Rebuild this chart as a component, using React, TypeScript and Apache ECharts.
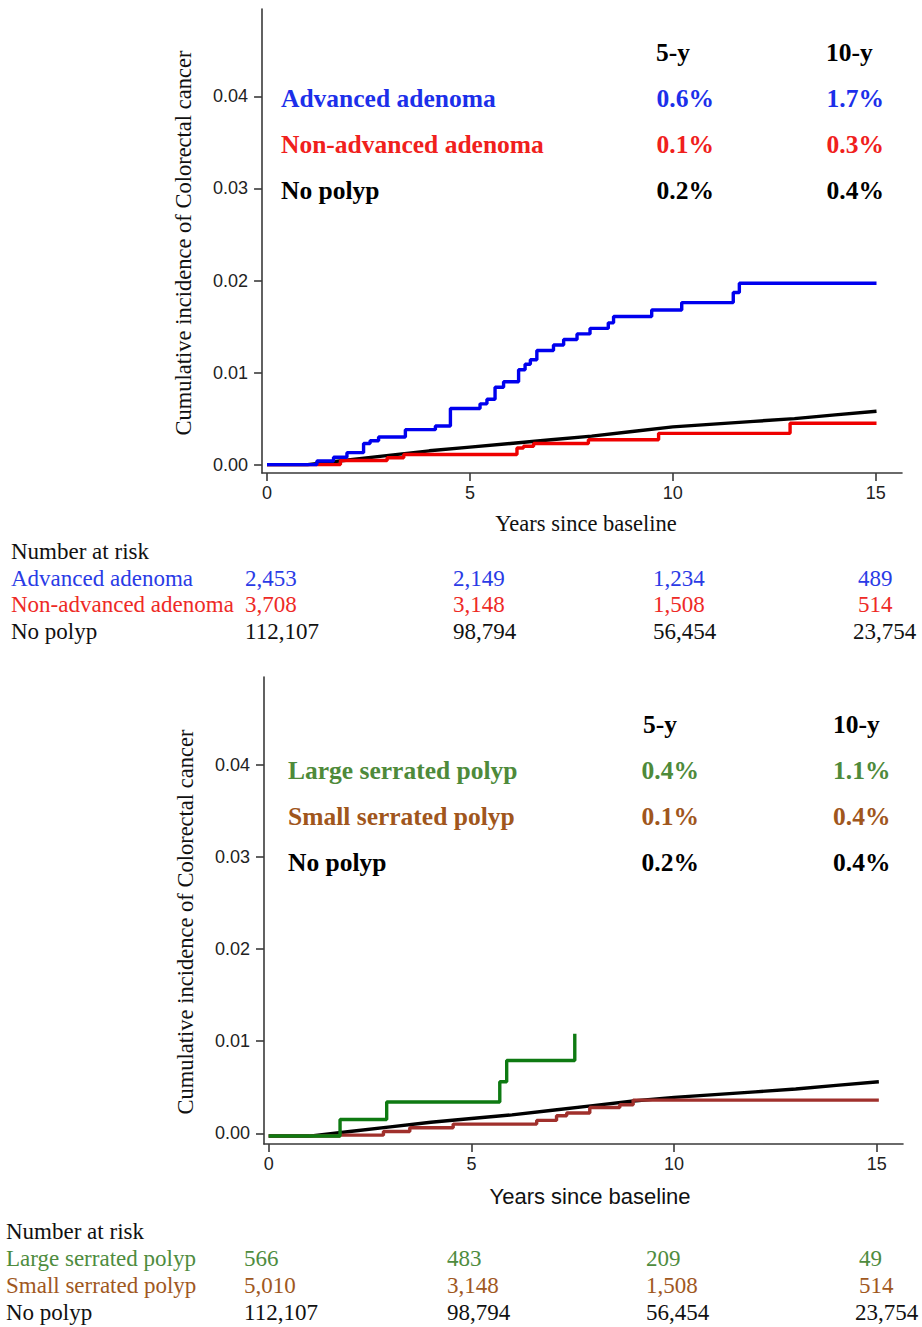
import React, { useEffect, useRef } from 'react';
import * as echarts from 'echarts';

// ---------- data ----------
const xTicks = [0, 5, 10, 15];
const yTicks = [0, 0.01, 0.02, 0.03, 0.04];

// Panel A: cumulative incidence (years, incidence)
const advancedAdenoma: [number, number][] = [
  [0, 0], [1.23, 0.0004], [1.64, 0.0008], [1.97, 0.0013], [2.38, 0.0023], [2.54, 0.0026],
  [2.75, 0.003], [3.41, 0.0038], [4.15, 0.0042], [4.52, 0.0061], [5.25, 0.0066], [5.42, 0.0071],
  [5.62, 0.0084], [5.83, 0.009], [6.2, 0.0103], [6.36, 0.0109], [6.49, 0.0114], [6.65, 0.0124],
  [7.06, 0.013], [7.31, 0.0136], [7.64, 0.0142], [7.96, 0.0148], [8.41, 0.0154], [8.54, 0.0161],
  [9.48, 0.0168], [10.22, 0.0176], [11.49, 0.0187], [11.64, 0.0197], [15.02, 0.0197],
];
const nonAdvancedAdenoma: [number, number][] = [
  [0, 0], [1.81, 0.00045], [2.96, 0.00075], [3.37, 0.0011], [6.16, 0.0018], [6.32, 0.002],
  [6.57, 0.0023], [7.92, 0.0027], [9.65, 0.0034], [12.89, 0.0045], [15.02, 0.0045],
];
const noPolypA: [number, number][] = [
  [0, 0], [1.0, 0], [2, 0.0005], [3, 0.001], [4, 0.0015], [5, 0.0019], [6, 0.0023], [7, 0.0027],
  [8, 0.0031], [9, 0.0036], [10, 0.0041], [11, 0.0044], [12, 0.0047], [13, 0.005], [14, 0.0054], [15.02, 0.0058],
];

// Panel B
const largeSerrated: [number, number][] = [
  [0, -0.0003], [1.76, 0.0015], [2.91, 0.0034], [5.7, 0.0056], [5.87, 0.0079], [7.55, 0.0108],
];
const smallSerrated: [number, number][] = [
  [0, -0.0003], [1.76, -0.0002], [2.83, 0.0002], [3.48, 0.0006], [4.55, 0.001], [6.61, 0.0014],
  [7.1, 0.0019], [7.35, 0.0022], [7.92, 0.0028], [8.66, 0.0031], [8.99, 0.0036], [15.05, 0.0036],
];
const noPolypB: [number, number][] = [
  [0, -0.0003], [1.0, -0.0003], [2, 0.0002], [3, 0.0007], [4, 0.0012], [5, 0.0016], [6, 0.002],
  [7, 0.0025], [8, 0.003], [9, 0.0035], [10, 0.0039], [11, 0.0042], [12, 0.0045], [13, 0.0048],
  [14, 0.0052], [15.05, 0.0056],
];

const groupsA = ['Advanced adenoma', 'Non-advanced adenoma', 'No polyp'];
const fiveYearA = ['0.6%', '0.1%', '0.2%'];
const tenYearA = ['1.7%', '0.3%', '0.4%'];
const groupsB = ['Large serrated polyp', 'Small serrated polyp', 'No polyp'];
const fiveYearB = ['0.4%', '0.1%', '0.2%'];
const tenYearB = ['1.1%', '0.4%', '0.4%'];
const headers = ['5-y', '10-y'];

const riskA = [
  [2453, 2149, 1234, 489],
  [3708, 3148, 1508, 514],
  [112107, 98794, 56454, 23754],
];
const riskB = [
  [566, 483, 209, 49],
  [5010, 3148, 1508, 514],
  [112107, 98794, 56454, 23754],
];

// ---------- styles ----------
const lineColorsA = ['#0000EE', '#EE0000', '#000000'];
const textColorsA = ['#1C2FEA', '#F0201C', '#000000'];
const tableColorsA = ['#2A3BE6', '#EE2A26', '#111111'];
const lineColorsB = ['#0E7A12', '#A0302C', '#000000'];
const textColorsB = ['#4E8A3A', '#A0561C', '#000000'];
const tableColorsB = ['#4E8C3E', '#A0581E', '#111111'];

const SERIF = 'Liberation Serif';
const SANS = 'Liberation Sans';
const AXIS = '#3a3a3a';

function fmt(n: number) {
  return n.toLocaleString('en-US');
}

function txt(text: string, x: number, y: number, fill: string, opts: any = {}) {
  return {
    type: 'text',
    x,
    y,
    rotation: opts.rotation || 0,
    silent: true,
    style: {
      text,
      fill,
      fontSize: opts.fontSize || 23,
      fontFamily: opts.fontFamily || SERIF,
      fontWeight: opts.fontWeight || 'normal',
      align: opts.align || 'left',
      verticalAlign: 'middle',
    },
  };
}

function makeAxes(gridIndex: number) {
  const xAxis = {
    type: 'value',
    gridIndex,
    min: gridIndex === 0 ? -0.123 : -0.116,
    max: gridIndex === 0 ? 15.648 : 15.646,
    axisLine: { show: true, onZero: false, lineStyle: { color: AXIS, width: 1.6 } },
    axisTick: { show: true, customValues: xTicks, length: 8, inside: false, lineStyle: { color: AXIS, width: 1.6 } },
    axisLabel: { customValues: xTicks, fontSize: 18, color: '#222', fontFamily: SANS, margin: 11 },
    splitLine: { show: false },
  };
  const yAxis = {
    type: 'value',
    gridIndex,
    min: gridIndex === 0 ? -0.00091 : -0.00116,
    max: 0.0495,
    axisLine: { show: true, onZero: false, lineStyle: { color: AXIS, width: 1.6 } },
    axisTick: { show: true, customValues: yTicks, length: 8, inside: false, lineStyle: { color: AXIS, width: 1.6 } },
    axisLabel: {
      customValues: yTicks,
      fontSize: 18,
      color: '#222',
      fontFamily: SANS,
      margin: 14,
      formatter: (v: number) => v.toFixed(2),
    },
    splitLine: { show: false },
  };
  return { xAxis, yAxis };
}

function line(name: string, data: [number, number][], color: string, idx: number, step: boolean) {
  return {
    type: 'line',
    name,
    xAxisIndex: idx,
    yAxisIndex: idx,
    data,
    step: step ? 'end' : false,
    showSymbol: false,
    symbol: 'none',
    lineStyle: { color, width: 3.4 },
    z: 2,
  };
}

export default function App() {
  const ref = useRef<HTMLDivElement>(null);

  useEffect(() => {
    if (!ref.current) return;
    const chart = echarts.init(ref.current, null, { renderer: 'svg' });

    const a = makeAxes(0);
    const b = makeAxes(1);

    const graphics: any[] = [];

    // Panel A annotations
    graphics.push(txt('Cumulative incidence of Colorectal cancer', 183, 243, '#111', { rotation: Math.PI / 2, fontSize: 22.5, align: 'center' }));
    graphics.push(txt('Years since baseline', 586, 523, '#111', { fontSize: 22.5, align: 'center' }));
    graphics.push(txt(headers[0], 656, 52, '#000', { fontSize: 25.5, fontWeight: 'bold' }));
    graphics.push(txt(headers[1], 826, 52, '#000', { fontSize: 25.5, fontWeight: 'bold' }));
    groupsA.forEach((g, i) => {
      const y = 98 + i * 46.2;
      graphics.push(txt(g, 281, y, textColorsA[i], { fontSize: 25.5, fontWeight: 'bold' }));
      graphics.push(txt(fiveYearA[i], 656.5, y, textColorsA[i], { fontSize: 25.5, fontWeight: 'bold' }));
      graphics.push(txt(tenYearA[i], 826.5, y, textColorsA[i], { fontSize: 25.5, fontWeight: 'bold' }));
    });
    // Panel A risk table
    const colA = [245, 453, 653, 858];
    graphics.push(txt('Number at risk', 11, 551, '#111', { fontSize: 23 }));
    groupsA.forEach((g, i) => {
      const y = 578 + i * 26.7;
      graphics.push(txt(g, 11, y, tableColorsA[i], { fontSize: 23 }));
      riskA[i].forEach((v, j) => {
        const s = fmt(v);
        const x = j === 3 && s.length > 4 ? 853 : colA[j];
        graphics.push(txt(s, x, y, tableColorsA[i], { fontSize: 23 }));
      });
    });

    // Panel B annotations
    graphics.push(txt('Cumulative incidence of Colorectal cancer', 185, 922, '#111', { rotation: Math.PI / 2, fontSize: 22.5, align: 'center' }));
    graphics.push(txt('Years since baseline', 590, 1196, '#111', { fontSize: 22, fontFamily: SANS, align: 'center' }));
    graphics.push(txt(headers[0], 643, 724, '#000', { fontSize: 25.5, fontWeight: 'bold' }));
    graphics.push(txt(headers[1], 833, 724, '#000', { fontSize: 25.5, fontWeight: 'bold' }));
    groupsB.forEach((g, i) => {
      const y = 770 + i * 46.4;
      graphics.push(txt(g, 288, y, textColorsB[i], { fontSize: 25.5, fontWeight: 'bold' }));
      graphics.push(txt(fiveYearB[i], 641.5, y, textColorsB[i], { fontSize: 25.5, fontWeight: 'bold' }));
      graphics.push(txt(tenYearB[i], 833, y, textColorsB[i], { fontSize: 25.5, fontWeight: 'bold' }));
    });
    const colB = [244, 447, 646, 859];
    graphics.push(txt('Number at risk', 6, 1231, '#111', { fontSize: 23 }));
    groupsB.forEach((g, i) => {
      const y = 1258 + i * 27;
      graphics.push(txt(g, 6, y, tableColorsB[i], { fontSize: 23 }));
      riskB[i].forEach((v, j) => {
        const s = fmt(v);
        const x = j === 3 && s.length > 4 ? 855 : colB[j];
        graphics.push(txt(s, x, y, tableColorsB[i], { fontSize: 23 }));
      });
    });

    chart.setOption({
      animation: false,
      backgroundColor: '#ffffff',
      grid: [
        { left: 262, top: 9, width: 640, height: 464, containLabel: false },
        { left: 264, top: 677, width: 639, height: 467, containLabel: false },
      ],
      xAxis: [a.xAxis, b.xAxis],
      yAxis: [a.yAxis, b.yAxis],
      series: [
        line('No polyp', noPolypA, lineColorsA[2], 0, false),
        line('Non-advanced adenoma', nonAdvancedAdenoma, lineColorsA[1], 0, true),
        line('Advanced adenoma', advancedAdenoma, lineColorsA[0], 0, true),
        line('No polyp ', noPolypB, lineColorsB[2], 1, false),
        line('Small serrated polyp', smallSerrated, lineColorsB[1], 1, true),
        line('Large serrated polyp', largeSerrated, lineColorsB[0], 1, true),
      ],
      graphic: graphics,
    });

    return () => {
      chart.dispose();
    };
  }, []);

  return (
    <div
      ref={ref}
      style={{ position: 'absolute', left: 0, top: 0, width: 922, height: 1327, background: '#fff' }}
    />
  );
}
